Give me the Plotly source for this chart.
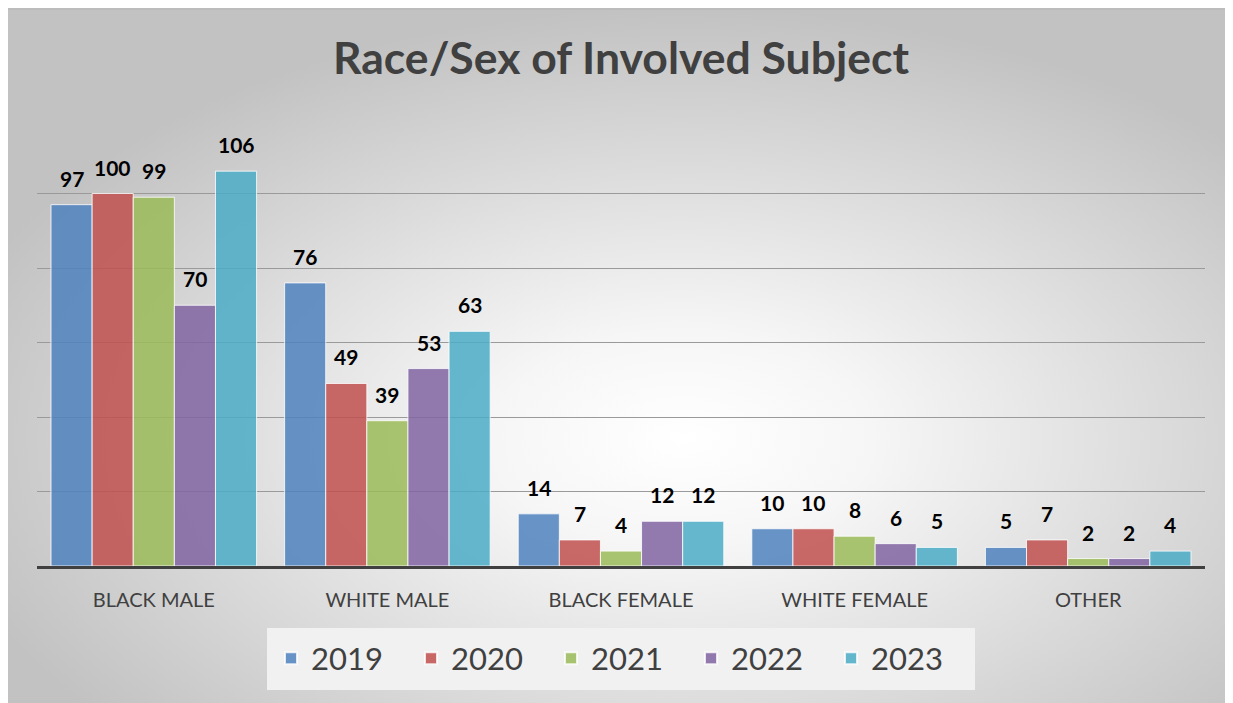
import base64
import plotly.graph_objects as go

categories = ["BLACK MALE", "WHITE MALE", "BLACK FEMALE", "WHITE FEMALE", "OTHER"]
years = ["2019", "2020", "2021", "2022", "2023"]
v2019 = [97, 76, 14, 10, 5]
v2020 = [100, 49, 7, 10, 7]
v2021 = [99, 39, 4, 8, 2]
v2022 = [70, 53, 12, 6, 2]
v2023 = [106, 63, 12, 5, 4]
series = [v2019, v2020, v2021, v2022, v2023]
colors = ["rgba(79,129,189,0.85)", "rgba(192,80,77,0.85)", "rgba(155,187,89,0.85)",
          "rgba(128,100,162,0.85)", "rgba(75,172,198,0.85)"]

# page has an 8px body margin; figure sized to fit the window
W, H = 1225, 695
L, R, T, B = 29, 28, 111, 137
pw, ph = W - L - R, H - T - B
bargap = 0.12
FONT = "Lato"

fig = go.Figure()
for yr, vals, col in zip(years, series, colors):
    fig.add_trace(go.Bar(
        name=yr, x=categories, y=vals,
        marker=dict(color=col, line=dict(color="rgba(255,255,255,0.8)", width=1)),
    ))

n = len(years)
gw = 1 - bargap
annotations = []
for i, vals in enumerate(series):
    off = -gw / 2 + gw / n * (i + 0.5)
    for c, v in enumerate(vals):
        annotations.append(dict(
            x=c + off, y=v, xref="x", yref="y", text=f"<b>{v}</b>",
            showarrow=False, yanchor="bottom", yshift=12,
            font=dict(family=FONT, size=21, color="#000000"),
        ))

svg = (
    '<svg xmlns="http://www.w3.org/2000/svg" width="1225" height="695" viewBox="0 0 1225 695" '
    'preserveAspectRatio="none"><defs><radialGradient id="g" cx="0.55" cy="0.62" r="0.62">'
    '<stop offset="0" stop-color="#ffffff"/><stop offset="0.25" stop-color="#f6f6f6"/>'
    '<stop offset="1" stop-color="#c2c2c2"/></radialGradient></defs>'
    '<rect width="1225" height="695" fill="url(#g)"/>'
    '<rect x="0" y="0" width="1225" height="2" fill="#bcbcbc"/></svg>'
)
src = "data:image/svg+xml;base64," + base64.b64encode(svg.encode()).decode()

legbg = "#f1f1f1"
fig.update_layout(
    width=W, height=H,
    margin=dict(l=L, r=R, t=T, b=B),
    paper_bgcolor="white", plot_bgcolor="rgba(0,0,0,0)",
    barmode="group", bargap=bargap, bargroupgap=0,
    title=dict(text="<b>Race/Sex of Involved Subject</b>", x=0.5, xref="paper",
               y=1 - 50 / H, yref="container", yanchor="middle", xanchor="center",
               font=dict(family=FONT, size=44.5, color="#404040")),
    font=dict(family=FONT, color="#404040"),
    images=[dict(source=src, xref="paper", yref="paper",
                 x=-L / pw, y=(H - B) / ph,
                 sizex=W / pw, sizey=H / ph,
                 xanchor="left", yanchor="top", sizing="stretch", layer="below")],
    legend=dict(orientation="h", x=0.5, xanchor="center", y=-0.138, yanchor="top",
                bgcolor=legbg, bordercolor=legbg, borderwidth=4,
                font=dict(family=FONT, size=31, color="#404040"),
                entrywidth=95, entrywidthmode="pixels", itemsizing="constant"),
    annotations=annotations,
    showlegend=True,
)
fig.update_yaxes(range=[0, 120], dtick=20, showticklabels=False, showgrid=True,
                 gridcolor="#9a9a9a", gridwidth=1, zeroline=False, fixedrange=True)
fig.update_xaxes(showline=True, linecolor="#404040", linewidth=3, ticks="",
                 tickfont=dict(family=FONT, size=20, color="#404040"),
                 ticklabelstandoff=14, showgrid=False)

fig.write_html("out.html")
